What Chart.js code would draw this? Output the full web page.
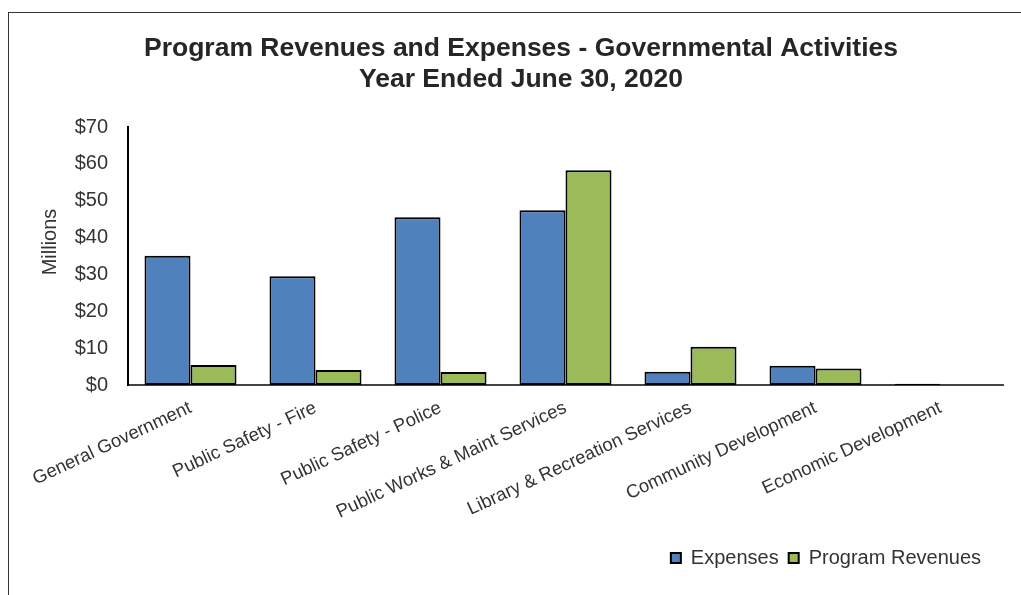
<!DOCTYPE html>
<html>
<head>
<meta charset="utf-8">
<title>Program Revenues and Expenses</title>
<script src="https://cdn.jsdelivr.net/npm/chart.js@4.4.1/dist/chart.umd.min.js"></script>
<style>
    body {
        margin: 0;
        background: #fff;
        font-family: "Liberation Sans", Arial, sans-serif;
    }
    #frame {
        position: absolute;
        left: 8px;
        top: 12px;
        width: 1013px;
        height: 583px;
        border-left: 1px solid #333;
        border-top: 1px solid #333;
        box-sizing: border-box;
    }
    #chart-box {
        position: relative;
        width: 1012px;
        height: 582px;
    }
</style>
</head>
<body>
<div id="frame">
    <div id="chart-box"><canvas id="revenuesChart"></canvas></div>
</div>
<script>
// Functions (categories)
const functions = [
    'General Government',
    'Public Safety - Fire',
    'Public Safety - Police',
    'Public Works & Maint Services',
    'Library & Recreation Services',
    'Community Development',
    'Economic Development'
];

// Amounts in millions of dollars
const expenses = [35.1, 29.5, 45.5, 47.4, 3.6, 5.2, 0.35];
const programRevenues = [5.4, 4.1, 3.5, 58.3, 10.4, 4.5, 0];

// Y axis
const yMin = 0;
const yMax = 70;
const yStep = 10;
const yAxisTitle = 'Millions';

const chartTitle = [
    'Program Revenues and Expenses - Governmental Activities',
    'Year Ended June 30, 2020'
];

const textColor = '#333';

// Shift the legend in from the right edge and center the title over the plot
const boxNudge = {
    id: 'boxNudge',
    afterLayout(chart) {
        if (chart.legend) {
            chart.legend.left -= 12;
            chart.legend.right -= 12;
        }
        if (chart.titleBlock) {
            chart.titleBlock.left += 15;
            chart.titleBlock.right += 15;
        }
    }
};

// Axis title drawn a little above the middle of the y axis
const yTitle = {
    id: 'yTitle',
    afterDraw(chart) {
        const c = chart.ctx;
        const area = chart.chartArea;
        c.save();
        c.translate(41, (area.top + area.bottom) / 2 - 14);
        c.rotate(-Math.PI / 2);
        c.fillStyle = textColor;
        c.font = '20px "Liberation Sans"';
        c.textAlign = 'center';
        c.textBaseline = 'middle';
        c.fillText(yAxisTitle, 0, 0);
        c.restore();
    }
};

const ctx = document.getElementById('revenuesChart').getContext('2d');

const revenuesChart = new Chart(ctx, {
    type: 'bar',
    data: {
        labels: functions,
        datasets: [
            {
                label: 'Expenses',
                data: expenses,
                backgroundColor: '#4F81BD',
                borderColor: '#000',
                borderWidth: 2,
                borderSkipped: false,
                categoryPercentage: 0.736,
                barPercentage: 1.0
            },
            {
                label: 'Program Revenues',
                data: programRevenues,
                backgroundColor: '#9BBB59',
                borderColor: '#000',
                borderWidth: 2,
                borderSkipped: false,
                categoryPercentage: 0.736,
                barPercentage: 1.0
            }
        ]
    },
    options: {
        responsive: true,
        maintainAspectRatio: false,
        animation: false,
        layout: {
            padding: { left: 0, right: 18, top: 0, bottom: 17 }
        },
        scales: {
            x: {
                grid: { display: false, drawTicks: false },
                border: { display: true, color: '#444', width: 2 },
                ticks: {
                    color: textColor,
                    font: { family: 'Liberation Sans', size: 18.5 },
                    minRotation: 25,
                    maxRotation: 25,
                    autoSkip: false,
                    padding: 12
                },
                afterFit: function(scale) {
                    scale.height = 153;
                }
            },
            y: {
                min: yMin,
                max: yMax,
                grid: { display: false, drawTicks: false },
                border: { display: true, color: '#000', width: 2 },
                ticks: {
                    stepSize: yStep,
                    color: textColor,
                    font: { family: 'Liberation Sans', size: 20 },
                    padding: 20,
                    callback: function(value) {
                        return '$' + value;
                    }
                },
                afterFit: function(scale) {
                    scale.width = 119;
                }
            }
        },
        plugins: {
            title: {
                display: true,
                text: chartTitle,
                color: '#262626',
                font: { family: 'Liberation Sans', size: 26.5, weight: 'bold', lineHeight: 1.17 },
                padding: { top: 20, bottom: 32 }
            },
            legend: {
                position: 'bottom',
                align: 'end',
                labels: {
                    color: textColor,
                    font: { family: 'Liberation Sans', size: 20 },
                    boxWidth: 10,
                    boxHeight: 10,
                    padding: 10
                }
            },
            tooltip: { enabled: false }
        }
    },
    plugins: [boxNudge, yTitle]
});
</script>
</body>
</html>
